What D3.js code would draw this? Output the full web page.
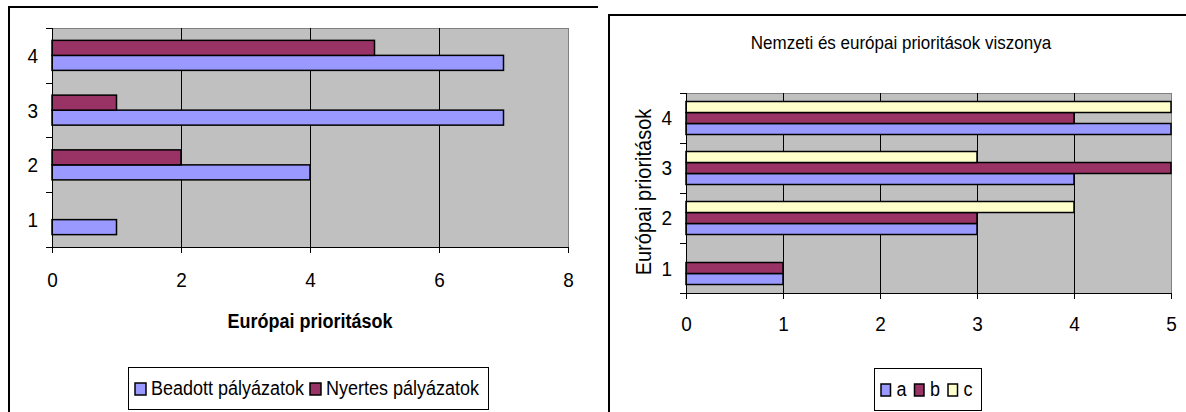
<!DOCTYPE html>
<html><head><meta charset="utf-8">
<script src="https://cdn.jsdelivr.net/npm/d3@7"></script>
<style>
html,body{margin:0;padding:0;background:#fff;}
svg{display:block;}
text{font-family:"Liberation Sans",Arial,sans-serif;fill:#000;transform-box:fill-box;transform-origin:center;transform:scaleY(1.1);}
</style></head><body>
<svg id="chart" width="1186" height="412"></svg>
<script>
// ---- data ----
const categories = ["1", "2", "3", "4"];

const leftSeriesNames = ["Beadott pályázatok", "Nyertes pályázatok"];
const beadott = [1, 4, 7, 7];
const nyertes = [0, 2, 1, 5];
const leftTicks = [0, 2, 4, 6, 8];
const leftAxisTitle = "Európai prioritások";

const rightTitle = "Nemzeti és európai prioritások viszonya";
const rightSeriesNames = ["a", "b", "c"];
const seriesA = [1, 3, 4, 5];
const seriesB = [1, 3, 5, 4];
const seriesC = [0, 4, 3, 5];
const rightTicks = [0, 1, 2, 3, 4, 5];
const rightAxisTitle = "Európai prioritások";

const colors = ["#9999FF", "#993366", "#FFFFCC"];

const svg = d3.select("#chart");

function panel(o) {
  const g = svg.append("g");
  g.append("path").attr("d", o.frame).attr("fill", "none")
    .attr("stroke", "#000").attr("stroke-width", 2);

  const xmax = d3.max(o.ticks);
  const x = d3.scaleLinear().domain([0, xmax]).range([o.plot.x0, o.plot.x1]);
  const y = d3.scaleBand().domain(categories.slice().reverse())
    .range([o.plot.y0, o.plot.y1]).paddingInner(o.pad).paddingOuter(o.pad / 2);
  const inner = d3.scaleBand().domain(o.series.map(s => s.name).reverse())
    .range([0, y.bandwidth()]);

  // plot background
  g.append("rect").attr("x", x(0) + 0.5).attr("y", o.plot.y0 + 0.5)
    .attr("width", x(xmax) - x(0)).attr("height", o.plot.y1 - o.plot.y0)
    .attr("fill", "#C0C0C0").attr("stroke", "#808080").attr("shape-rendering", "crispEdges");

  // gridlines
  g.selectAll("line.grid").data(o.ticks.filter(t => t > 0 && t < xmax)).join("line")
    .attr("class", "grid")
    .attr("x1", d => Math.round(x(d)) + 0.5).attr("x2", d => Math.round(x(d)) + 0.5)
    .attr("y1", o.plot.y0).attr("y2", o.plot.y1)
    .attr("stroke", "#000").attr("shape-rendering", "crispEdges");

  // bars
  o.series.forEach(s => {
    const data = categories.map((c, i) => ({ c, v: s.values[i] })).filter(d => d.v > 0);
    g.selectAll(null).data(data).join("rect")
      .attr("x", x(0))
      .attr("y", d => y(d.c) + inner(s.name))
      .attr("width", d => x(d.v) - x(0))
      .attr("height", inner.bandwidth())
      .attr("fill", s.color).attr("stroke", "#000").attr("stroke-width", 1.5);
  });

  // x axis
  const xa = g.append("g").attr("transform", `translate(0,${o.plot.y1})`)
    .call(d3.axisBottom(x).tickValues(o.ticks).tickFormat(d3.format("d"))
      .tickSize(6).tickSizeOuter(0).tickPadding(o.xPad));
  xa.select(".domain").attr("stroke", "#000");
  xa.selectAll(".tick line").attr("stroke", "#000");
  xa.selectAll("text").attr("font-size", 19).attr("font-family", null);

  // y axis
  const step = y.step();
  const bounds = categories.map(c => y(c) - step * y.paddingInner() / 2)
    .concat([o.plot.y1]);
  g.append("line").attr("x1", x(0) + 0.5).attr("x2", x(0) + 0.5)
    .attr("y1", o.plot.y0).attr("y2", o.plot.y1 + 0.5).attr("stroke", "#000")
    .attr("shape-rendering", "crispEdges");
  g.selectAll(null).data(bounds).join("line")
    .attr("x1", x(0) - 6).attr("x2", x(0))
    .attr("y1", d => Math.round(d) + 0.5).attr("y2", d => Math.round(d) + 0.5)
    .attr("stroke", "#000").attr("shape-rendering", "crispEdges");
  g.selectAll(null).data(categories).join("text")
    .attr("x", x(0) - 14).attr("y", d => y(d) + y.bandwidth() / 2)
    .attr("dy", "0.36em").attr("text-anchor", "end").attr("font-size", 19)
    .text(d => d);

  return { g, x, y };
}

// ---- left chart ----
const L = panel({
  frame: "M9,420 V7 H598",
  plot: { x0: 52, x1: 568, y0: 28, y1: 247 },
  ticks: leftTicks, pad: 0.452, xPad: 20,
  series: [
    { name: leftSeriesNames[0], values: beadott, color: colors[0] },
    { name: leftSeriesNames[1], values: nyertes, color: colors[1] }
  ]
});
L.g.append("text").attr("x", 310).attr("y", 321).attr("dy", "0.36em")
  .attr("text-anchor", "middle").attr("font-size", 18).attr("font-weight", "bold")
  .text(leftAxisTitle);

// ---- right chart ----
const R = panel({
  frame: "M609,420 V15 H1190",
  plot: { x0: 686, x1: 1171, y0: 93, y1: 293 },
  ticks: rightTicks, pad: 0.34, xPad: 18,
  series: [
    { name: rightSeriesNames[0], values: seriesA, color: colors[0] },
    { name: rightSeriesNames[1], values: seriesB, color: colors[1] },
    { name: rightSeriesNames[2], values: seriesC, color: colors[2] }
  ]
});
R.g.append("text").attr("x", 901).attr("y", 42).attr("dy", "0.36em")
  .attr("text-anchor", "middle").attr("font-size", 17).text(rightTitle);
R.g.append("g").attr("transform", "translate(643,192) rotate(-90)")
  .append("text")
  .attr("dy", "0.36em").attr("text-anchor", "middle").attr("font-size", 20)
  .text(rightAxisTitle);

// ---- legends ----
function legend(o) {
  const g = svg.append("g");
  g.append("rect").attr("x", o.x + 0.5).attr("y", o.y + 0.5).attr("width", o.w).attr("height", o.h)
    .attr("fill", "#fff").attr("stroke", "#000").attr("shape-rendering", "crispEdges");
  let cx = o.x + o.padL;
  const cy = o.y + o.h / 2;
  o.items.forEach(it => {
    g.append("rect").attr("x", cx).attr("y", cy - o.sh / 2 + 1).attr("width", o.sw).attr("height", o.sh)
      .attr("fill", it.color).attr("stroke", "#000").attr("stroke-width", 1.5);
    cx += o.sw + o.gap1;
    const t = g.append("text").attr("x", cx).attr("y", cy).attr("dy", "0.36em")
      .attr("font-size", 18).text(it.name);
    cx += t.node().getComputedTextLength() + o.gap2;
  });
}
legend({
  x: 128, y: 367, w: 360, h: 42, padL: 7, sw: 11, sh: 12, gap1: 5, gap2: 6,
  items: leftSeriesNames.map((n, i) => ({ name: n, color: colors[i] }))
});
legend({
  x: 874, y: 368, w: 107, h: 42, padL: 7, sw: 9.5, sh: 12, gap1: 6, gap2: 8,
  items: rightSeriesNames.map((n, i) => ({ name: n, color: colors[i] }))
});
</script>
</body></html>
